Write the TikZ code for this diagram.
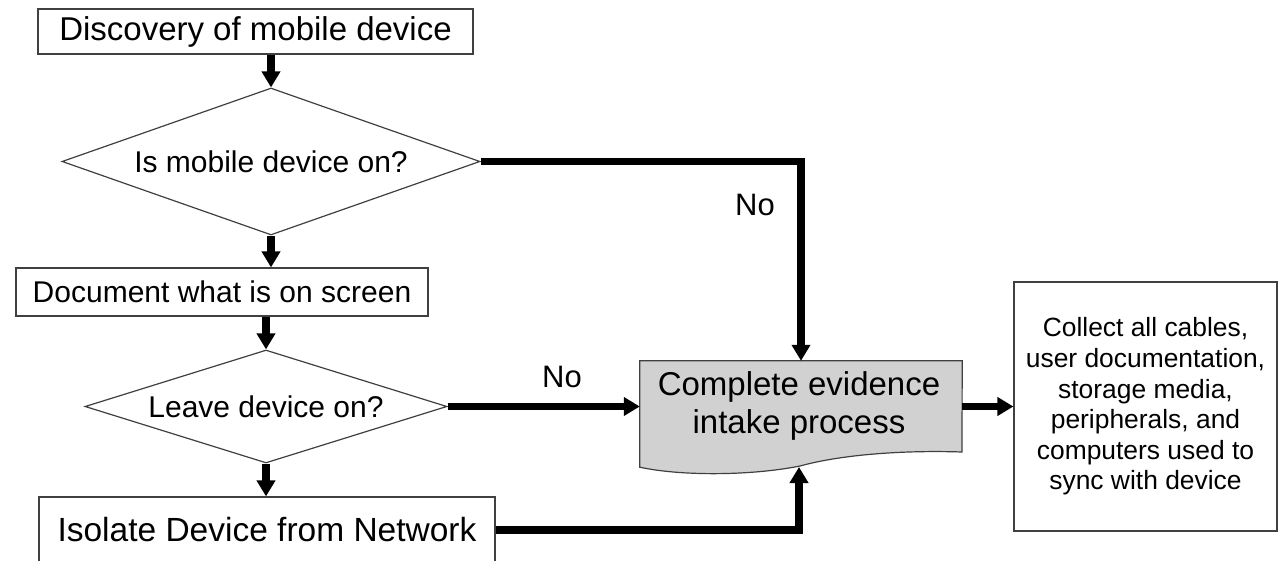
\documentclass[tikz,border=0pt]{standalone}
\usepackage{fontspec}
\setmainfont{Liberation Sans}
\usetikzlibrary{arrows.meta,shapes.geometric,calc}
\begin{document}
\begin{tikzpicture}[x=1pt,y=-1pt,
  box/.style={draw=black!75, line width=1.2pt, inner sep=0pt},
  dec/.style={diamond, draw=black!75, line width=1.2pt, inner sep=0pt},
  arr/.style={line width=7.5pt, -{Triangle[length=16pt,width=18pt]}},
  fa/.style={font=\fontsize{#1}{#1}\selectfont},
]
\useasboundingbox (0,0) rectangle (1280,561);
\clip (0,0) rectangle (1280,561);
\fill[white] (0,0) rectangle (1280,561);

\node[box, minimum width=435pt, minimum height=45pt, fa=33] (disc) at (255.5,31.5) {Discovery of mobile device};
\node[dec, minimum width=418pt, minimum height=147pt, aspect=2.84, fa=30] (d1) at (271,161.5) {Is mobile device on?};
\node[box, minimum width=412pt, minimum height=48pt, fa=30] (doc) at (222,292) {Document what is on screen};
\node[dec, minimum width=362pt, minimum height=113pt, aspect=3.2, fa=30] (d2) at (266,406.5) {Leave device on?};
\node[box, minimum width=456pt, minimum height=66pt, fa=33.5] (iso) at (267,530) {Isolate Device from Network};

\node[inner sep=0pt, minimum width=322pt, minimum height=106pt] (cmp) at (801,414) {};
\filldraw[fill=black!18, draw=black!75, line width=1.2pt]
  (cmp.south west) -- (cmp.north west) -- (cmp.north east) -- (962,452)
  .. controls (900,450) and (840,455) .. (800,466)
  .. controls (750,476) and (680,476) .. (cmp.south west) -- cycle;
\node[align=center, font=\fontsize{33}{38}\selectfont] (cmpt) at (799,406) {Complete evidence\\intake process};

\node[box, minimum width=263pt, minimum height=249pt, align=center, font=\fontsize{26.4}{30.6}\selectfont] (coll) at (1145.5,406.5)
  {Collect all cables,\\user documentation,\\storage media,\\peripherals, and\\computers used to\\sync with device};

\node[fa=31] (no1) at (755,205) {No};
\node[fa=31] (no2) at (562,377) {No};

\coordinate (bt) at (799,467);

\draw[arr] (d1.north |- disc.south) -- (d1.north);
\draw[arr] (d1.south) -- (d1.south |- doc.north);
\draw[arr] (d2.north |- doc.south) -- (d2.north);
\draw[arr] (d2.south) -- (d2.south |- iso.north);
\draw[arr] (d1.east) -| (cmp.north);
\draw[arr] (d2.east) -- (d2.east -| cmp.west);
\draw[arr] (iso.east) -| (bt);
\draw[arr] (cmp.east |- coll.west) -- (coll.west);
\end{tikzpicture}
\end{document}
